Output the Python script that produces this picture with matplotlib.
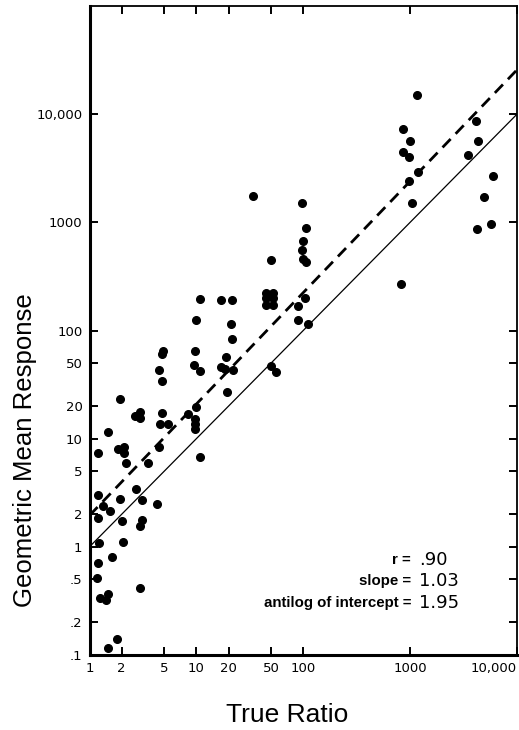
import numpy as np
import matplotlib
matplotlib.use("Agg")
import matplotlib.pyplot as plt

# data (true ratio vs geometric mean response)
true_ratio = [
    1160, 860, 1000, 860, 980, 1190, 980, 1040, 825,
    4100, 4300, 3500, 6000, 4900, 5700, 4200,
    34, 97, 105, 99, 97, 99, 105, 50,
    45, 52, 45, 52, 45, 52,
    103, 89, 89, 110, 50, 55,
    10.7, 17, 21.5, 10, 21, 21.6,
    4.9, 4.8, 9.8, 4.5, 4.8, 9.6, 10.7,
    19, 17.1, 18.6, 22, 19.4,
    4.8, 4.6, 5.4, 8.4, 10, 9.8, 9.8, 9.8,
    4.5, 10.9, 3.5, 2.65, 3.0, 3.0,
    1.92, 1.5, 1.2, 1.84, 2.1, 2.1, 2.2,
    1.2, 2.7, 1.92, 3.1, 4.3, 1.34, 1.55, 1.2, 2.0, 3.1, 3.0,
    1.23, 2.05, 1.62, 1.2, 1.17, 1.25, 1.49, 1.42, 3.0, 1.8, 1.49,
]
mean_response = [
    15000, 7300, 5700, 4450, 4000, 2900, 2400, 1500, 270,
    8600, 5600, 4200, 2700, 1700, 960, 860,
    1750, 1500, 880, 670, 550, 454, 426, 445,
    220, 220, 198, 198, 172, 172,
    200, 167, 126, 116, 47, 41,
    195, 190, 190, 126, 114, 84,
    65, 60, 64, 43.5, 34.4, 48, 42.6,
    57, 46.4, 44, 43.5, 27,
    17.4, 13.8, 13.8, 17, 19.8, 15.3, 13.8, 12.4,
    8.4, 6.8, 5.9, 16.3, 17.5, 15.6,
    23.5, 11.6, 7.4, 8.1, 8.4, 7.4, 5.9,
    3.03, 3.4, 2.78, 2.7, 2.5, 2.4, 2.15, 1.86, 1.74, 1.78, 1.56,
    1.09, 1.1, 0.81, 0.71, 0.52, 0.34, 0.367, 0.32, 0.417, 0.14, 0.116,
]

# fitted line (dashed) and identity line (solid)
r_value = ".90"
slope = 1.03
intercept = 1.95

x_ticks = [1, 2, 5, 10, 20, 50, 100, 1000, 10000]
x_ticklabels = ["1", "2", "5", "10", "20", "50", "100", "1000", "10,000"]
y_ticks = [0.1, 0.2, 0.5, 1, 2, 5, 10, 20, 50, 100, 1000, 10000]
y_ticklabels = [".1", ".2", ".5", "1", "2", "5", "10", "20", "50", "100", "1000", "10,000"]

fig = plt.figure(figsize=(5.19, 7.30), dpi=100)
ax = fig.add_axes([89.5 / 519, 1 - 655 / 730, (517 - 89.5) / 519, (655 - 6) / 730])

ax.set_xscale("log")
ax.set_yscale("log")
ax.set_xlim(1, 10000)
ax.set_ylim(0.1, 100000)

ax.plot(true_ratio, mean_response, "o", color="black", ms=5.5, mec="black", zorder=3)

xs = np.array([1, 10000])
ax.plot(xs, xs, color="black", lw=0.9)
ax.plot(xs, intercept * xs ** slope, color="black", lw=2.0, linestyle=(0, (4.2, 2.6)))

ax.xaxis.set_minor_locator(matplotlib.ticker.NullLocator())
ax.yaxis.set_minor_locator(matplotlib.ticker.NullLocator())
ax.set_xticks(x_ticks)
ax.set_xticklabels(x_ticklabels)
ax.set_yticks(y_ticks)
ax.set_yticklabels(y_ticklabels)
ax.tick_params(which="major", direction="in", length=6, width=1.4,
               top=True, right=True, labelsize=9.5, pad=5)
ax.get_xticklabels()[-1].set_horizontalalignment("right")

for side in ["left", "bottom"]:
    ax.spines[side].set_linewidth(2.2)
for side in ["top", "right"]:
    ax.spines[side].set_linewidth(1.3)

label_font = ["Liberation Sans", "DejaVu Sans"]
fig.text(25 / 519, 1 - 450 / 730, "Geometric Mean Response", rotation=90,
         ha="center", va="center", fontsize=18.5, family=label_font)
fig.text(287 / 519, 1 - 715 / 730, "True Ratio", ha="center", va="center",
         fontsize=19, family=label_font)

labels = ["r =", "slope =", "antilog of intercept ="]
values = [r_value, f"{slope:.2f}", f"{intercept:.2f}"]
rows_y = [560, 581, 603]
for lab, val, py in zip(labels, values, rows_y):
    fig.text(411 / 519, 1 - py / 730, lab, ha="right", va="center",
             fontsize=10.8, fontweight="bold", family=label_font)
    fig.text(419 / 519, 1 - py / 730, val, ha="left", va="center",
             fontsize=13, family="DejaVu Sans")

fig.savefig("out.png", dpi=100)
